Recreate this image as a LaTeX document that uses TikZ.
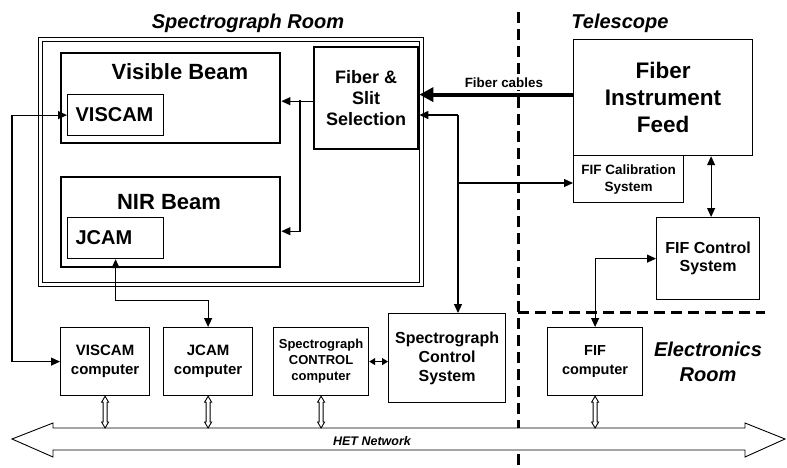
\documentclass[tikz,border=0pt]{standalone}
\usepackage{fontspec}
\setmainfont{Liberation Sans}
\usetikzlibrary{arrows.meta,calc}

% hollow two-way link down to the network
\newcommand\hollowlink[2]{%
  \draw[hueco] let \p1=(#1), \p2=(#2) in
    (\x1,\y1) -- ++(3.5pt,-6pt) -- ++(-1.5pt,0) -- (\x2+2pt,\y2+6pt) -- ++(1.5pt,0)
    -- (\x2,\y2) -- ++(-3.5pt,6pt) -- ++(1.5pt,0) -- (\x1-2pt,\y1-6pt) -- ++(-1.5pt,0) -- cycle;}

\begin{document}
\begin{tikzpicture}[x=1pt,y=-1pt]
    \tikzset{Caja/.style = {draw,line width=1.2pt,anchor=north west,inner sep=0pt,align=center}}
    \tikzset{CajaGruesa/.style = {Caja,line width=2.4pt}}
    \tikzset{Camara/.style = {Caja,align=left,text width=80pt,inner xsep=8pt,minimum height=41pt,font=\bfseries\fontsize{20}{24}\selectfont}}
    \tikzset{Titulo/.style = {align=center,font=\bfseries\itshape\fontsize{20}{25}\selectfont}}
    \tikzset{flecha/.style = {->,>={Triangle[length=9pt,width=8pt]},line width=1.2pt}}
    \tikzset{dobleFlecha/.style = {flecha,<->}}
    \tikzset{cable/.style = {->,>={Triangle[length=14pt,width=14pt]},line width=4pt}}
    \tikzset{division/.style = {line width=3pt,dash pattern=on 11pt off 6pt}}
    \tikzset{hueco/.style = {draw,line width=0.9pt,fill=white}}

    \useasboundingbox (0,0) rectangle (787,467);

    %Zonas
    \draw[division] (518,12) -- (518,467);
    \draw[division] (518,312) -- (765,312);

    \node[Titulo] (tituloSala) at (248,23) {Spectrograph Room};
    \node[Titulo] (tituloTel) at (620,23) {Telescope};
    \node[Titulo] (tituloElec) at (708,362) {Electronics\\Room};

    %Sala del espectrografo
    \node[draw,double,double distance=2.4pt,line width=1pt,anchor=north west,inner sep=0pt,
          minimum width=381pt,minimum height=245pt] (sala) at (40,39) {};

    \node[CajaGruesa,minimum width=219pt,minimum height=90pt] (visible) at (60,52) {};
    \node[font=\bfseries\fontsize{22}{26}\selectfont] (visibleT) at (180,72) {Visible Beam};
    \node[Camara] (viscam) at (67,94) {VISCAM};

    \node[CajaGruesa,minimum width=219pt,minimum height=90pt] (nir) at (60,176) {};
    \node[font=\bfseries\fontsize{22}{26}\selectfont] (nirT) at (169,202) {NIR Beam};
    \node[Camara] (jcam) at (67,217) {JCAM};

    \node[CajaGruesa,minimum width=104pt,minimum height=102pt,font=\bfseries\fontsize{18}{21}\selectfont] (fibra) at (313,46) {Fiber \&\\Slit\\Selection};

    %Telescopio
    \node[Caja,minimum width=179pt,minimum height=116pt,font=\bfseries\fontsize{22.5}{27}\selectfont] (fif) at (573,39) {Fiber\\Instrument\\Feed};
    \node[Caja,minimum width=110pt,minimum height=47pt,font=\bfseries\fontsize{13.5}{17}\selectfont] (fifcal) at (573,155) {FIF Calibration\\System};
    \node[Caja,minimum width=103pt,minimum height=82pt,font=\bfseries\fontsize{16}{18.5}\selectfont] (fifctl) at (656,217) {FIF Control\\System};

    %Computadoras
    \node[Caja,minimum width=89pt,minimum height=68pt,font=\bfseries\fontsize{15}{19}\selectfont] (viscomp) at (60,327) {VISCAM\\computer};
    \node[Caja,minimum width=89pt,minimum height=68pt,font=\bfseries\fontsize{15}{19}\selectfont] (jcomp) at (163,327) {JCAM\\computer};
    \node[Caja,minimum width=95pt,minimum height=68pt,font=\bfseries\fontsize{13}{16}\selectfont] (sccomp) at (273,327) {Spectrograph\\CONTROL\\computer};
    \node[Caja,minimum width=117pt,minimum height=89pt,font=\bfseries\fontsize{16}{19}\selectfont] (scsys) at (388,313) {Spectrograph\\Control\\System};
    \node[Caja,minimum width=95pt,minimum height=68pt,font=\bfseries\fontsize{14.5}{19}\selectfont] (fifcomp) at (547,327) {FIF\\computer};

    %Cables de fibra
    \draw[cable] ([yshift=3pt]fif.west) -- ([yshift=3pt]fif.west -| fibra.east)
        node[pos=0.45,above=3pt,fill=white,inner ysep=2pt,font=\bfseries\fontsize{13.4}{16}\selectfont] (cablesT) {Fiber cables};

    %Seleccion a los haces
    \coordinate (reparto) at (300,100);
    \draw[flecha] ([yshift=-3pt]fibra.west) -- ([yshift=-3pt]fibra.west -| visible.east);
    \draw[flecha] (reparto) |- ([yshift=-9pt]nir.east);

    %Camaras a sus computadoras
    \draw[dobleFlecha] (viscam.west) -- ++(-55,0) |- (viscomp.west);
    \draw[dobleFlecha] (jcam.south) -- ++(0,41) -| (jcomp.north);
    \draw[dobleFlecha,>={Triangle[length=6pt,width=7pt]}] (sccomp.east) -- (sccomp.east -| scsys.west);

    %Sistema de control
    \coordinate (toma) at (458,115);
    \draw[flecha] (toma) -- (toma -| fibra.east);
    \draw[flecha] (toma) -- (toma |- scsys.north);
    \draw[flecha] (toma |- 0,183) -- (fifcal.west |- 0,183);

    %FIF
    \draw[dobleFlecha] ([xshift=3pt]fifctl.north) -- ([xshift=3pt]fifctl.north |- fif.south);
    \draw[dobleFlecha] (fifctl.west) -| (fifcomp.north);

    %Red HET
    \coordinate (netTop) at (0,428);
    \draw[hueco] (12,439) -- (53,423) -- (53,428) -- (745,428) -- (745,423) -- (785,439)
        -- (745,457) -- (745,450) -- (53,450) -- (53,457) -- cycle;
    \node[font=\bfseries\itshape\fontsize{12.5}{15}\selectfont] (redT) at (372,441) {HET Network};

    \hollowlink{viscomp.south}{viscomp.south |- netTop}
    \hollowlink{jcomp.south}{jcomp.south |- netTop}
    \hollowlink{sccomp.south}{sccomp.south |- netTop}
    \hollowlink{fifcomp.south}{fifcomp.south |- netTop}

\end{tikzpicture}
\end{document}
